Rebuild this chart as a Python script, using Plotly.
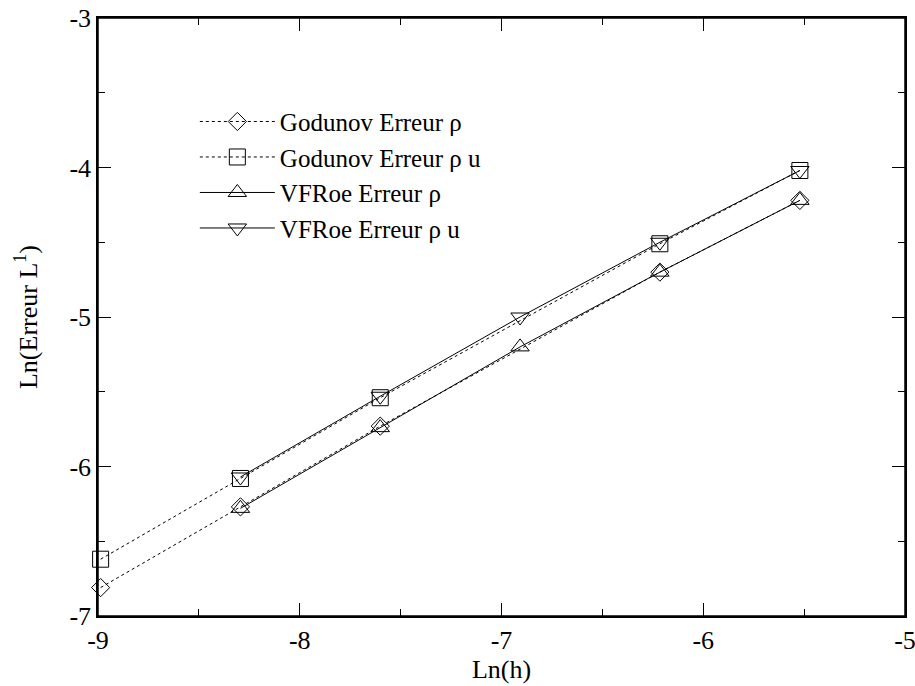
import plotly.graph_objects as go

# Data
x_god = [-8.987, -8.294, -7.601, -6.215, -5.521]
god_rho = [-6.81, -6.27, -5.73, -4.70, -4.22]
god_rhou = [-6.62, -6.08, -5.54, -4.51, -4.02]

x_vfr = [-8.294, -7.601, -6.908, -6.215, -5.521]
vfr_rho = [-6.28, -5.74, -5.20, -4.70, -4.22]
vfr_rhou = [-6.07, -5.53, -5.00, -4.50, -4.02]

x_ticks = [-9, -8, -7, -6, -5]
x_ticktext = ["-9", "-8", "-7", "-6", "-5"]
y_ticks = [-7, -6, -5, -4, -3]
y_ticktext = ["-7", "-6", "-5", "-4", "-3"]

FONT = "Liberation Serif"
FS = 26

fig = go.Figure()

def add(x, y, name, symbol, dash, size):
    fig.add_trace(go.Scatter(
        x=x, y=y, name=name, mode="lines+markers",
        line=dict(color="black", width=1, dash=dash),
        marker=dict(symbol=symbol, size=size, color="black",
                    line=dict(color="black", width=1)),
        cliponaxis=False,
    ))

add(x_god, god_rho, "Godunov Erreur ρ", "diamond-open", "3px,3px", 14)
add(x_god, god_rhou, "Godunov Erreur ρ u", "square-open", "3px,3px", 16)
add(x_vfr, vfr_rho, "VFRoe Erreur ρ", "triangle-up-open", "solid", 16)
add(x_vfr, vfr_rhou, "VFRoe Erreur ρ u", "triangle-down-open", "solid", 16)

axis_common = dict(
    showgrid=False, zeroline=False, showline=True, linecolor="black",
    linewidth=1.5, mirror="allticks", ticks="inside", ticklen=13,
    tickwidth=1, tickcolor="black", automargin=False,
    ticklabeloverflow="allow",
    tickfont=dict(family=FONT, size=FS, color="black"),
    minor=dict(ticks="inside", ticklen=7, tickwidth=1, tickcolor="black", dtick=0.5),
)

fig.update_xaxes(range=[-9, -5], tickvals=x_ticks, ticktext=x_ticktext,
                 title=dict(text="Ln(h)", font=dict(family=FONT, size=FS, color="black"),
                            standoff=4),
                 **axis_common)
fig.update_yaxes(range=[-7, -3], tickvals=y_ticks, ticktext=y_ticktext,
                 title=dict(text="Ln(Erreur L<sup>1</sup>)",
                            font=dict(family=FONT, size=FS, color="black"),
                            standoff=24),
                 **axis_common)

# plot frame
fig.add_shape(type="rect", xref="x domain", yref="y domain",
              x0=0, x1=1, y0=0, y1=1, line=dict(color="black", width=1.5),
              layer="above")

fig.update_layout(
    width=915, height=686,
    margin=dict(l=98, r=10, t=18, b=70),
    paper_bgcolor="white", plot_bgcolor="white",
    font=dict(family=FONT, color="black", size=FS),
    legend=dict(x=0.12, y=0.865, xanchor="left", yanchor="top",
                bgcolor="rgba(0,0,0,0)", borderwidth=0,
                font=dict(family=FONT, size=25, color="black"),
                itemwidth=75, tracegroupgap=0),
    showlegend=True,
)

fig.write_html("out.html", config={"displayModeBar": False},
               post_script="document.body.style.margin='0';document.body.style.overflow='hidden';")
